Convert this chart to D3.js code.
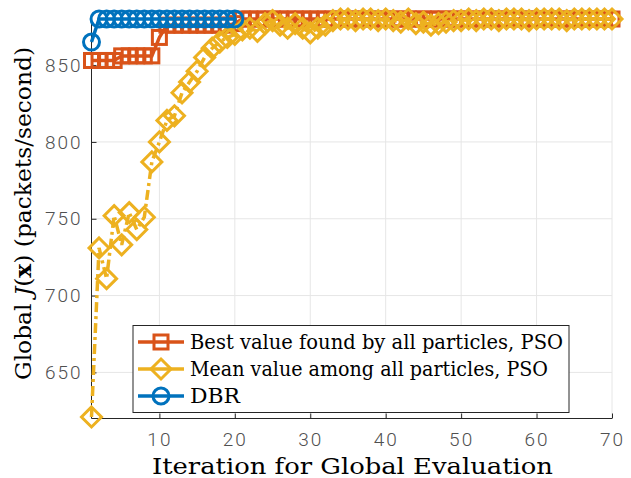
<!DOCTYPE html>
<html>
<head>
<meta charset="utf-8">
<script src="https://cdn.jsdelivr.net/npm/d3@7"></script>
<style>
  body { margin: 0; background: #fff; }
  svg { display: block; }
  .serif { font-family: "DejaVu Serif", serif; }
</style>
</head>
<body>
<div id="chart"></div>
<script>
// values
const iterations = [1,2,3,4,5,6,7,8,9,10,11,12,13,14,15,16,17,18,19,20,
  21,22,23,24,25,26,27,28,29,30,31,32,33,34,35,36,37,38,39,40,
  41,42,43,44,45,46,47,48,49,50,51,52,53,54,55,56,57,58,59,60,
  61,62,63,64,65,66,67,68,69,70];

const bestPSO = [853,853,853,853,856,856,856,856,856,868,
  876,876,876,876,876,876,876,876,876,877,
  880,880,880,880,880,880,880,880,880,880,
  880,880,880,880,880,880,880,880,880,880,
  880,880,880,880,880,880,880,880,880,880,
  880,880,880,880,880,880,880,880,880,880,
  880,880,880,880,880,880,880,880,880,880];

const meanPSO = [621,731,711,752,733,754,743,751,787,800,
  814,817,832,839,846,855,861,865,868,870,
  873,874,872,877,879,876,874,877,874,871,
  874,876,879,880,880,879,880,880,879,880,
  879,878,880,877,878,876,877,878,879,879,
  880,879,880,880,879,880,880,880,879,880,
  880,880,880,879,880,880,880,880,880,880];

const dbr = [865,880,880,880,880,880,880,880,880,880,
  880,880,880,880,880,880,880,880,880,880];

const xTicks = [10,20,30,40,50,60,70];
const yTicks = [650,700,750,800,850];

const legendLabels = [
  "Best value found by all particles, PSO",
  "Mean value among all particles, PSO",
  "DBR"
];
const legendWidths = [373, 358, 50];

function drawChart() {
    const W = 631, H = 478;
    const left = 91.5, right = 612, top = 19, bottom = 418.5;

    const svg = d3.select("#chart")
        .append("svg")
        .attr("width", W)
        .attr("height", H);

    const x = d3.scaleLinear().domain([1, 70]).range([left, right]);
    const y = d3.scaleLinear().domain([620, 880]).range([bottom, top]);

    // grid
    svg.append("g")
        .selectAll("line")
        .data(xTicks)
        .enter().append("line")
        .attr("x1", d => x(d)).attr("x2", d => x(d))
        .attr("y1", top).attr("y2", bottom)
        .attr("stroke", "#e6e6e6").attr("stroke-width", 1);
    svg.append("g")
        .selectAll("line")
        .data(yTicks)
        .enter().append("line")
        .attr("x1", left).attr("x2", right)
        .attr("y1", d => y(d)).attr("y2", d => y(d))
        .attr("stroke", "#e6e6e6").attr("stroke-width", 1);

    // axes (ticks point inward, like matlab)
    const xAxis = svg.append("g")
        .attr("transform", `translate(0,${bottom})`)
        .call(d3.axisBottom(x).tickValues(xTicks).tickSize(-5).tickPadding(14));
    const yAxis = svg.append("g")
        .attr("transform", `translate(${left},0)`)
        .call(d3.axisLeft(y).tickValues(yTicks).tickSize(-5).tickPadding(9));

    [xAxis, yAxis].forEach(ax => {
        ax.select(".domain").attr("stroke", "#262626").attr("stroke-width", 1);
        ax.selectAll(".tick line").attr("stroke", "#262626");
        ax.selectAll(".tick text")
            .attr("fill", "#505050")
            .style("font-family", "Roboto, 'DejaVu Sans', sans-serif")
            .style("font-weight", "300")
            .style("font-size", "19px")
            .style("letter-spacing", "2px");
    });
    xAxis.select(".domain").attr("d", `M${left},0H${right}`);
    yAxis.select(".domain").attr("d", `M0,${bottom}V${top}`);

    // series
    const series = [
        { values: bestPSO, color: "#D95319", dash: null, marker: "square" },
        { values: meanPSO, color: "#EDB120", dash: "10,4,3,4", marker: "diamond" },
        { values: dbr, color: "#0072BD", dash: null, marker: "circle" }
    ];

    const line = d3.line()
        .x((d, i) => x(iterations[i]))
        .y(d => y(d));

    function drawMarker(g, kind, color) {
        if (kind === "square") {
            g.append("rect").attr("x", -7).attr("y", -7).attr("width", 14).attr("height", 14)
                .attr("fill", "none").attr("stroke", color).attr("stroke-width", 3);
        } else if (kind === "diamond") {
            g.append("path").attr("d", "M0,-10L10,0L0,10L-10,0Z")
                .attr("fill", "none").attr("stroke", color).attr("stroke-width", 3);
        } else {
            g.append("circle").attr("r", 8)
                .attr("fill", "none").attr("stroke", color).attr("stroke-width", 3);
        }
    }

    series.forEach(s => {
        svg.append("path")
            .datum(s.values)
            .attr("d", line)
            .attr("fill", "none")
            .attr("stroke", s.color)
            .attr("stroke-width", 3.5)
            .attr("stroke-dasharray", s.dash);

        svg.append("g")
            .selectAll("g")
            .data(s.values)
            .enter().append("g")
            .attr("transform", (d, i) => `translate(${x(iterations[i])},${y(d)})`)
            .each(function() { drawMarker(d3.select(this), s.marker, s.color); });
    });

    // legend
    const lg = svg.append("g");
    lg.append("rect")
        .attr("x", 133).attr("y", 325.5).attr("width", 436).attr("height", 87)
        .attr("fill", "#fff").attr("stroke", "#262626").attr("stroke-width", 1);
    legendLabels.forEach((lab, i) => {
        const ly = 342 + i * 27;
        const s = series[i];
        lg.append("line")
            .attr("x1", 138).attr("x2", 184).attr("y1", ly).attr("y2", ly)
            .attr("stroke", s.color).attr("stroke-width", 3.5);
        const mg = lg.append("g").attr("transform", `translate(161,${ly})`);
        drawMarker(mg, s.marker, s.color);
        lg.append("text")
            .attr("class", "serif")
            .attr("x", 190).attr("y", ly + 7)
            .attr("textLength", legendWidths[i])
            .attr("lengthAdjust", "spacingAndGlyphs")
            .style("font-size", "21px")
            .attr("fill", "#000")
            .text(lab);
    });

    // axis labels
    svg.append("text")
        .attr("class", "serif")
        .attr("x", 152).attr("y", 474)
        .attr("textLength", 401)
        .attr("lengthAdjust", "spacingAndGlyphs")
        .style("font-size", "22px")
        .attr("fill", "#000")
        .text("Iteration for Global Evaluation");

    const yl = svg.append("text")
        .attr("class", "serif")
        .attr("transform", "translate(31,380) rotate(-90)")
        .attr("textLength", 333)
        .attr("lengthAdjust", "spacingAndGlyphs")
        .style("font-size", "22px")
        .attr("fill", "#000");
    yl.append("tspan").text("Global ");
    yl.append("tspan").style("font-style", "italic").text("J");
    yl.append("tspan").text("(");
    yl.append("tspan").style("font-weight", "bold").text("x");
    yl.append("tspan").text(") (packets/second)");
}

drawChart();
</script>
</body>
</html>
